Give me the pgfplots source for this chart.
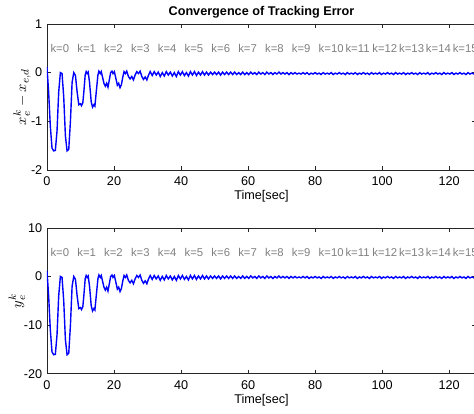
\documentclass[border=0pt]{standalone}
\usepackage{pgfplots}
\usepackage{pgfplotstable}
\pgfplotsset{compat=1.18}
\usetikzlibrary{calc}
\usepackage{fontspec}
\setmainfont{Liberation Sans}

% t, x-error, y-error
\pgfplotstableread{
t x y
0 0.12 1.2
0.5 -0.40 -4.0
1.0 -1.10 -11.0
1.5 -1.55 -15.5
2.0 -1.61 -16.1
2.5 -1.60 -16.0
3.0 -1.20 -12.0
3.5 -0.40 -4.0
4.0 0.00 0.0
4.5 -0.02 -0.2
5.0 -0.50 -5.0
5.5 -1.30 -13.0
6.0 -1.61 -16.1
6.5 -1.58 -15.8
7.0 -1.00 -10.0
7.5 -0.20 -2.0
8.0 0.00 0.0
8.5 -0.06 -0.6
9.0 -0.40 -4.0
9.5 -0.66 -6.6
10.0 -0.64 -6.4
10.3 -0.68 -6.8
10.7 -0.62 -6.2
11.0 -0.40 -4.0
11.4 -0.05 -0.5
11.7 0.02 0.2
12.0 -0.02 -0.2
12.3 0.01 0.1
12.7 -0.20 -2.0
13.2 -0.60 -6.0
13.6 -0.71 -7.1
14.0 -0.66 -6.6
14.3 -0.69 -6.9
14.7 -0.40 -4.0
15.2 -0.05 -0.5
15.5 0.03 0.3
15.9 -0.02 -0.2
16.2 0.02 0.2
16.6 -0.10 -1.0
17.0 -0.22 -2.2
17.4 -0.28 -2.8
17.8 -0.22 -2.2
18.2 -0.30 -3.0
18.6 -0.15 -1.5
19.0 0.00 0.0
19.4 0.03 0.3
19.7 -0.02 -0.2
20.1 0.02 0.2
20.5 -0.10 -1.0
21.0 -0.26 -2.6
21.4 -0.22 -2.2
21.8 -0.31 -3.1
22.2 -0.25 -2.5
22.6 -0.10 -1.0
23.0 0.02 0.2
23.4 -0.02 -0.2
23.8 0.03 0.3
24.3 -0.08 -0.8
24.8 -0.13 -1.3
25.3 -0.08 -0.8
25.8 -0.15 -1.5
26.3 -0.05 -0.5
26.8 0.02 0.2
27.3 -0.02 -0.2
27.8 0.03 0.3
28.3 -0.08 -0.8
28.8 -0.14 -1.4
29.3 -0.09 -0.9
29.8 -0.15 -1.5
30.3 -0.05 -0.5
30.8 0.02 0.2
31.4 -0.06 -0.6
32.0 0.02 0.2
32.6 -0.05 -0.5
33.2 0.01 0.1
33.8 -0.08 -0.8
34.4 0.00 0.0
35.0 -0.07 -0.7
35.6 0.02 0.2
36.2 -0.05 -0.5
36.8 0.01 0.1
37.4 -0.07 -0.7
38.0 0.00 0.0
38.6 -0.08 -0.8
39.2 0.02 0.2
39.8 -0.05 -0.5
40.4 0.02 0.2
41.0 -0.06 -0.6
41.6 0.00 0.0
42.2 -0.07 -0.7
42.8 0.02 0.2
43.4 -0.05 -0.5
44.0 0.02 0.2
44.6 -0.06 -0.6
45.2 0.01 0.1
45.8 -0.05 -0.5
46.4 0.02 0.2
47.0 -0.05 -0.5
47.6 0.01 0.1
48.2 -0.05 -0.5
48.8 0.01 0.1
49.4 -0.04 -0.4
50.0 0.01 0.1
50.6 -0.04 -0.4
51.2 0.01 0.1
51.8 -0.05 -0.5
52.4 0.01 0.1
53.0 -0.04 -0.4
53.6 0.01 0.1
54.2 -0.04 -0.4
54.8 0.01 0.1
55.4 -0.04 -0.4
56.0 0.01 0.1
56.6 -0.04 -0.4
57.2 0.00 0.0
57.8 -0.04 -0.4
58.4 0.01 0.1
59.0 -0.04 -0.4
59.6 0.00 0.0
60.2 -0.04 -0.4
60.8 0.01 0.1
61.4 -0.03 -0.3
62.0 0.00 0.0
62.6 -0.04 -0.4
63.2 0.01 0.1
63.8 -0.03 -0.3
64.4 0.00 0.0
65.0 -0.04 -0.4
65.6 0.01 0.1
66.2 -0.03 -0.3
66.8 0.00 0.0
67.4 -0.04 -0.4
68.0 0.00 0.0
68.6 -0.03 -0.3
69.2 0.01 0.1
69.8 -0.03 -0.3
70.4 0.00 0.0
71.0 -0.03 -0.3
71.6 0.00 0.0
72.2 -0.04 -0.4
72.8 0.00 0.0
73.4 -0.03 -0.3
74.0 0.00 0.0
74.6 -0.03 -0.3
75.2 -0.01 -0.1
75.8 -0.03 -0.3
76.4 0.00 0.0
77.0 -0.03 -0.3
77.6 0.00 0.0
78.2 -0.04 -0.4
78.8 -0.01 -0.1
79.4 -0.03 -0.3
80.0 0.00 0.0
80.6 -0.03 -0.3
81.2 -0.01 -0.1
81.8 -0.04 -0.4
82.4 0.00 0.0
83.0 -0.03 -0.3
83.6 -0.01 -0.1
84.2 -0.03 -0.3
84.8 0.00 0.0
85.4 -0.04 -0.4
86.0 -0.01 -0.1
86.6 -0.03 -0.3
87.2 0.00 0.0
87.8 -0.03 -0.3
88.4 -0.01 -0.1
89.0 -0.04 -0.4
89.6 0.00 0.0
90.2 -0.03 -0.3
90.8 -0.01 -0.1
91.4 -0.03 -0.3
92.0 0.00 0.0
92.6 -0.04 -0.4
93.2 -0.01 -0.1
93.8 -0.03 -0.3
94.4 0.00 0.0
95.0 -0.03 -0.3
95.6 -0.01 -0.1
96.2 -0.04 -0.4
96.8 0.00 0.0
97.4 -0.03 -0.3
98.0 -0.01 -0.1
98.6 -0.03 -0.3
99.2 0.00 0.0
99.8 -0.04 -0.4
100.4 -0.01 -0.1
101.0 -0.03 -0.3
101.6 0.00 0.0
102.2 -0.03 -0.3
102.8 -0.01 -0.1
103.4 -0.04 -0.4
104.0 0.00 0.0
104.6 -0.03 -0.3
105.2 -0.01 -0.1
105.8 -0.03 -0.3
106.4 0.00 0.0
107.0 -0.04 -0.4
107.6 -0.01 -0.1
108.2 -0.03 -0.3
108.8 0.00 0.0
109.4 -0.03 -0.3
110.0 -0.01 -0.1
110.6 -0.04 -0.4
111.2 0.00 0.0
111.8 -0.03 -0.3
112.4 -0.01 -0.1
113.0 -0.03 -0.3
113.6 0.00 0.0
114.2 -0.04 -0.4
114.8 -0.01 -0.1
115.4 -0.03 -0.3
116.0 0.00 0.0
116.6 -0.03 -0.3
117.2 -0.01 -0.1
117.8 -0.04 -0.4
118.4 0.00 0.0
119.0 -0.03 -0.3
119.6 -0.01 -0.1
120.2 -0.03 -0.3
120.8 0.00 0.0
121.4 -0.04 -0.4
122.0 -0.01 -0.1
122.6 -0.03 -0.3
123.2 0.00 0.0
123.8 -0.03 -0.3
124.4 -0.01 -0.1
125.0 -0.04 -0.4
125.6 0.00 0.0
126.2 -0.03 -0.3
126.8 -0.01 -0.1
127.4 -0.03 -0.3
128.0 0.00 0.0
}\errdata

\definecolor{mblue}{RGB}{0,0,255}
\definecolor{kgray}{RGB}{128,128,128}

\pgfplotsset{
  errax/.style={
    width=322pt, height=109.5pt,
    scale only axis,
    xmin=0, xmax=128,
    xtick={0,20,...,120},
    tick align=inside,
    major tick length=3pt,
    axis line style={black!85},
    every tick/.style={black!85},
    tick label style={font=\fontsize{9.5}{11}\selectfont},
    /pgf/number format/assume math mode=true,
    xticklabel style={yshift=-1.5pt},
    xlabel={Time[sec]},
    xlabel style={at={(axis description cs:0.5,0)}, anchor=center, yshift=-20pt,
      font=\fontsize{9.5}{11}\selectfont},
    every axis y label/.style={at={(axis description cs:-0.058,0.5)},
      rotate=90, anchor=center, font=\fontsize{11}{13}\selectfont},
  },
}

\begin{document}
\begin{tikzpicture}
  \begin{axis}[errax, name=top,
      ymin=-2, ymax=1, ytick={-2,-1,0,1},
      ylabel={$x_e^k - x_{e,d}$},
      title={Convergence of Tracking Error},
      title style={font=\bfseries\fontsize{9.5}{11}\selectfont, yshift=-5pt},
    ]
    \addplot[mblue, line width=1.05pt] table[x=t, y=x] {\errdata};
    \pgfplotsinvokeforeach{0,...,15}{
      \node[kgray, anchor=west, inner sep=0pt, font=\fontsize{8.5}{10}\selectfont]
        at (axis cs:{8*#1+1},0.5) {k=#1};
    }
  \end{axis}
  \begin{axis}[errax, name=bot,
      at={($(top.south west)+(0,-43.5pt)$)}, anchor=north west,
      ymin=-20, ymax=10, ytick={-20,-10,0,10},
      ylabel={$y_e^k$},
      every axis y label/.append style={at={(axis description cs:-0.07,0.5)}},
    ]
    \addplot[mblue, line width=1.05pt] table[x=t, y=y] {\errdata};
    \pgfplotsinvokeforeach{0,...,15}{
      \node[kgray, anchor=west, inner sep=0pt, font=\fontsize{8.5}{10}\selectfont]
        at (axis cs:{8*#1+1},5) {k=#1};
    }
  \end{axis}
  \pgfresetboundingbox
  \useasboundingbox ([xshift=-35.25pt,yshift=18pt]top.north west)
    rectangle ([xshift=-1.5pt,yshift=-30pt]bot.south east);
\end{tikzpicture}
\end{document}
